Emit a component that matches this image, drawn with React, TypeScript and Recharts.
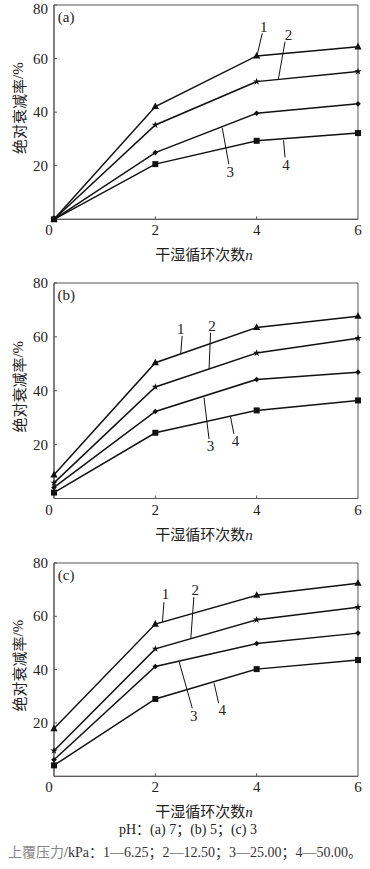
import { LineChart, Line, XAxis, YAxis, ReferenceArea, ReferenceLine, ReferenceDot, Label } from 'recharts';

const cycles = [0, 2, 4, 6];
const yTicks = [20, 40, 60, 80];

// pH 7
const a1 = [0, 42.1, 61.0, 64.4];
const a2 = [0, 35.2, 51.4, 55.2];
const a3 = [0, 24.9, 39.6, 43.1];
const a4 = [0, 20.6, 29.3, 32.2];

// pH 5
const b1 = [8.8, 50.4, 63.5, 67.7];
const b2 = [5.8, 41.4, 54.0, 59.5];
const b3 = [4.1, 32.3, 44.2, 46.9];
const b4 = [2.2, 24.4, 32.7, 36.4];

// pH 3
const c1 = [17.9, 57.1, 67.9, 72.4];
const c2 = [9.6, 47.8, 58.7, 63.4];
const c3 = [6.2, 41.2, 49.8, 53.7];
const c4 = [4.1, 29.0, 40.2, 43.6];

const serif = "'Liberation Serif', 'Times New Roman', 'Noto Sans CJK SC', serif";
const cjk = "'Noto Sans CJK SC', 'Liberation Serif', serif";
const axisGray = '#555';
const ink = '#111';

// curve labels: text pos + leader line, in data units
const notesA = [
  { t: '1', x: 4.14, y: 71.9, from: [4.11, 69.4], to: [4.01, 61.4] },
  { t: '2', x: 4.63, y: 68.8, from: [4.56, 66.3], to: [4.43, 52.5] },
  { t: '3', x: 3.48, y: 17.8, from: [3.45, 20.6], to: [3.32, 34.2] },
  { t: '4', x: 4.58, y: 20.4, from: [4.56, 23.1], to: [4.53, 29.5] },
];
const notesB = [
  { t: '1', x: 2.5, y: 62.8, from: [2.53, 60.4], to: [2.5, 53.6] },
  { t: '2', x: 3.12, y: 64.0, from: [3.09, 61.6], to: [3.06, 48.0] },
  { t: '3', x: 3.09, y: 19.4, from: [3.06, 22.1], to: [2.96, 37.5] },
  { t: '4', x: 3.58, y: 21.3, from: [3.55, 24.0], to: [3.48, 30.7] },
];
const notesC = [
  { t: '1', x: 2.2, y: 68.4, from: [2.17, 65.3], to: [2.14, 57.8] },
  { t: '2', x: 2.79, y: 69.7, from: [2.76, 67.2], to: [2.7, 51.6] },
  { t: '3', x: 2.76, y: 22.8, from: [2.73, 25.5], to: [2.47, 42.9] },
  { t: '4', x: 3.32, y: 24.7, from: [3.25, 27.4], to: [3.16, 34.9] },
];

const Triangle = ({ cx, cy }: any) => (
  <polygon points={`${cx},${cy - 4} ${cx - 3.6},${cy + 2.6} ${cx + 3.6},${cy + 2.6}`} fill={ink} />
);

const Star = ({ cx, cy }: any) => {
  const pts: string[] = [];
  for (let k = 0; k < 10; k++) {
    const r = k % 2 === 0 ? 3.8 : 1.5;
    const ang = -Math.PI / 2 + (k * Math.PI) / 5;
    pts.push(`${cx + r * Math.cos(ang)},${cy + r * Math.sin(ang)}`);
  }
  return <polygon points={pts.join(' ')} fill={ink} />;
};

const Diamond = ({ cx, cy }: any) => (
  <polygon points={`${cx},${cy - 2.8} ${cx + 2.8},${cy} ${cx},${cy + 2.8} ${cx - 2.8},${cy}`} fill={ink} />
);

const Square = ({ cx, cy }: any) => <rect x={cx - 3} y={cy - 3} width={6} height={6} fill={ink} />;

const XTick = ({ x, y, payload }: any) => (
  <g>
    {payload.value !== 0 && payload.value !== 6 && <line x1={x} y1={y} x2={x} y2={y - 3} stroke={axisGray} />}
    <text x={payload.value === 0 ? x - 5 : x} y={y + 16} textAnchor="middle" fontFamily={serif} fontSize={15} fill="#222">
      {payload.value}
    </text>
  </g>
);

// pageTop: where the svg sits on the page, so the top label is never pushed off the page edge
const makeYTick = (pageTop: number) => ({ x, y, payload }: any) => (
  <g>
    <line x1={x} y1={y} x2={x + 3} y2={y} stroke={axisGray} />
    <text x={x - 6} y={Math.max(y + 5, 14 - pageTop)} textAnchor="end" fontFamily={serif} fontSize={15} fill="#222">
      {payload.value}
    </text>
  </g>
);

const XTitle = ({ viewBox }: any) => (
  <text x={viewBox.x + viewBox.width / 2 - 2} y={viewBox.y + 41} textAnchor="middle" fontSize={15} fill="#222">
    <tspan fontFamily={cjk}>干湿循环次数</tspan>
    <tspan fontFamily={serif} fontStyle="italic">n</tspan>
  </text>
);

const YTitle = ({ viewBox }: any) => {
  const cx = 18;
  const cy = viewBox.y + viewBox.height / 2 - 4;
  return (
    <text x={cx} y={cy} transform={`rotate(-90 ${cx} ${cy})`} textAnchor="middle" dominantBaseline="central" fontSize={15} fill="#222">
      <tspan fontFamily={cjk}>绝对衰减率</tspan>
      <tspan fontFamily={serif}>/%</tspan>
    </text>
  );
};

type Note = { t: string; x: number; y: number; from: number[]; to: number[] };

// plotTop is the page y of the 80 line; the svg starts 12px above it so the top tick label fits
function Panel({ plotTop, plotHeight, tag, series, notes }: {
  plotTop: number; plotHeight: number; tag: string; series: number[][]; notes: Note[];
}) {
  const data = cycles.map((n, i) => ({ n, s1: series[0][i], s2: series[1][i], s3: series[2][i], s4: series[3][i] }));
  const pad = 12;
  const height = pad + plotHeight + 50;
  const markers = [Triangle, Star, Diamond, Square];
  return (
    <div style={{ position: 'absolute', left: 0, top: plotTop - pad, width: 370, height }}>
      <LineChart width={370} height={height} data={data} margin={{ top: pad, right: 12, bottom: 0, left: 0 }}>
        <XAxis
          dataKey="n"
          type="number"
          domain={[0, 6]}
          ticks={cycles}
          interval={0}
          height={50}
          axisLine={{ stroke: axisGray }}
          tickLine={false}
          tickSize={0}
          tickMargin={0}
          tick={XTick}
        >
          <Label content={XTitle} />
        </XAxis>
        <YAxis
          type="number"
          domain={[0, 80]}
          ticks={yTicks}
          interval={0}
          width={54}
          axisLine={{ stroke: axisGray }}
          tickLine={false}
          tickSize={0}
          tickMargin={0}
          tick={makeYTick(plotTop - pad)}
        >
          <Label content={YTitle} />
        </YAxis>
        <ReferenceArea x1={0} x2={6} y1={0} y2={80} fill="none" stroke={axisGray} strokeWidth={1} />
        {['s1', 's2', 's3', 's4'].map((k, i) => (
          <Line
            key={k}
            dataKey={k}
            stroke={ink}
            strokeWidth={1.5}
            dot={markers[i]}
            activeDot={false}
            isAnimationActive={false}
          />
        ))}
        {notes.map((nt) => (
          <ReferenceLine
            key={'l' + nt.t}
            segment={[{ x: nt.from[0], y: nt.from[1] }, { x: nt.to[0], y: nt.to[1] }]}
            stroke={ink}
            strokeWidth={1}
          />
        ))}
        {notes.map((nt) => (
          <ReferenceDot
            key={'t' + nt.t}
            x={nt.x}
            y={nt.y}
            r={0}
            shape={(p: any) => (
              <text x={p.cx} y={p.cy + 5} textAnchor="middle" fontFamily={serif} fontSize={15} fill="#222">
                {nt.t}
              </text>
            )}
          />
        ))}
        <ReferenceDot
          x={0.24}
          y={75.6}
          r={0}
          shape={(p: any) => (
            <text x={p.cx} y={p.cy + 5} textAnchor="middle" fontFamily={serif} fontSize={15} fill="#222">
              {tag}
            </text>
          )}
        />
      </LineChart>
    </div>
  );
}

export default function App() {
  return (
    <div style={{ position: 'absolute', left: 0, top: 0, width: 370, height: 869, background: '#fff', overflow: 'hidden' }}>
      <Panel plotTop={5} plotHeight={214.3} tag="(a)" series={[a1, a2, a3, a4]} notes={notesA} />
      <Panel plotTop={283} plotHeight={215.5} tag="(b)" series={[b1, b2, b3, b4]} notes={notesB} />
      <Panel plotTop={562.7} plotHeight={213.3} tag="(c)" series={[c1, c2, c3, c4]} notes={notesC} />
      <div style={{ position: 'absolute', left: 0, top: 821, width: 376, textAlign: 'center', fontFamily: serif, fontSize: 14, color: '#222', lineHeight: '17px' }}>
        pH：(a) 7；(b) 5；(c) 3
      </div>
      <div style={{ position: 'absolute', left: 8, top: 842, whiteSpace: 'nowrap', fontFamily: serif, fontSize: 14, color: '#333', lineHeight: '18px' }}>
        <span style={{ color: '#888', fontFamily: cjk }}>上覆压力</span>/kPa：1—6.25；2—12.50；3—25.00；4—50.00。
      </div>
    </div>
  );
}
